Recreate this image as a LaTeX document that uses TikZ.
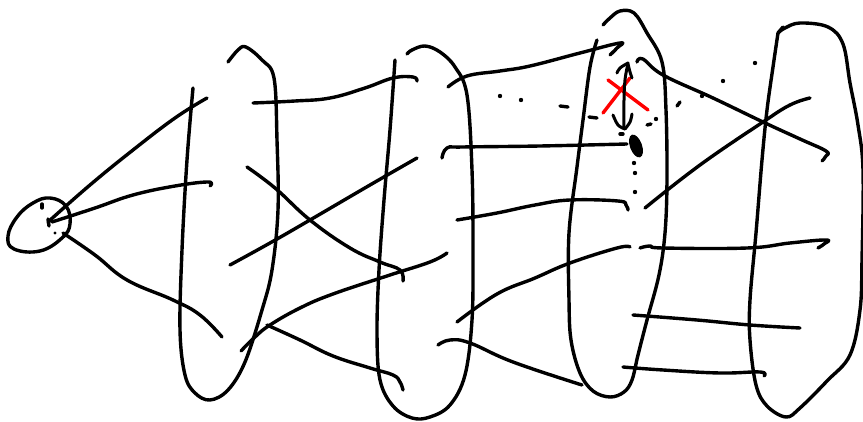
\documentclass[tikz,border=0pt]{standalone}
\begin{document}
\begin{tikzpicture}[x=1pt,y=-1pt,
  ink/.style={line width=3.4pt,line cap=round,line join=round,black},
  redink/.style={line width=3.4pt,line cap=round,line join=round,red}]
\useasboundingbox (0,0) rectangle (863,422);
% small ellipse (start)
\draw[ink] plot[smooth cycle,tension=0.7] coordinates {(50,198) (66,206) (70,224) (62,238) (40,251) (14,249) (8,236) (17,217) (33,203)};
\draw[ink] (42,204) -- (42,208);
\draw[ink] (48,219) -- (49,226);
\fill (55,233) circle (1.7);
% edges from start
\draw[ink] plot[smooth,tension=0.7] coordinates {(48,222) (90,185) (133,150) (175,118) (207,98)};
\draw[ink] plot[smooth,tension=0.7] coordinates {(52,222) (95,208) (133,195) (175,186) (208,182) (210,186)};
\draw[ink] plot[smooth,tension=0.7] coordinates {(63,233) (95,255) (127,280) (173,300) (200,315) (222,337)};
% column 1
\draw[ink] plot[smooth,tension=0.6] coordinates {(228,62) (238,50) (246,47) (262,60) (274,78) (277,140) (278,210) (272,270) (262,310) (245,362) (228,390) (210,400) (195,393) (185,375) (180,330) (182,250) (187,160) (193,88)};
% column 1 -> column 2
\draw[ink] plot[smooth,tension=0.7] coordinates {(253,103) (295,101) (330,98) (365,88) (393,78) (413,77) (417,81)};
\draw[ink] plot[smooth,tension=0.7] coordinates {(247,167) (275,188) (310,220) (350,248) (380,262) (400,270) (403,281)};
\draw[ink] plot[smooth,tension=0.7] coordinates {(230,265) (270,243) (310,220) (370,185) (417,158)};
\draw[ink] plot[smooth,tension=0.7] coordinates {(241,351) (255,337) (270,325) (300,308) (333,294) (390,275) (430,262) (447,253)};
\draw[ink] plot[smooth,tension=0.7] coordinates {(267,325) (300,340) (333,356) (370,368) (393,375) (400,382) (403,390)};
% column 2
\draw[ink] plot[smooth,tension=0.6] coordinates {(395,60) (390,130) (384,200) (379,270) (377,333) (380,380) (393,406) (412,418) (430,417) (450,405) (465,375) (472,320) (473,250) (472,170) (467,95) (455,67) (440,52) (425,46) (412,50) (407,54)};
% column 2 -> column 3
\draw[ink] plot[smooth,tension=0.7] coordinates {(448,87) (467,76) (500,71) (530,66) (580,53) (620,43) (617,48) (610,55)};
\draw[ink] plot[smooth,tension=0.7] coordinates {(442,158) (447,148) (463,147) (540,146) (627,144)};
\draw[ink] plot[smooth,tension=0.7] coordinates {(457,220) (497,213) (535,205) (570,200) (618,201) (626,205) (628,210)};
\draw[ink] plot[smooth,tension=0.7] coordinates {(457,322) (497,294) (535,278) (570,263) (617,248) (630,247)};
\draw[ink] plot[smooth,tension=0.7] coordinates {(438,345) (450,340) (470,343) (513,362) (582,385)};
% column 3
\draw[ink] plot[smooth,tension=0.6] coordinates {(597,40) (590,67) (583,120) (577,167) (569,233) (569,300) (571,340) (580,373) (593,391) (610,397) (624,392) (632,380) (638,355) (647,320) (659,275) (665,233) (667,180) (666,110) (662,62) (647,33) (634,13) (620,11) (610,18) (603,25)};
% red cross
\draw[redink] (608,80) -- (648,110);
\draw[redink] (630,78) -- (603,113);
% bracket / double arrow
\draw[ink,line width=3pt] plot[smooth,tension=0.6] coordinates {(628,63) (620,68) (617,73)};
\draw[ink,line width=3pt] plot[smooth,tension=0.6] coordinates {(628,63) (625,80) (624,100) (624,128)};
\draw[ink,line width=3pt] plot[smooth,tension=0.6] coordinates {(628,64) (630,72) (632,78)};
\draw[ink,line width=3pt] plot[smooth,tension=0.6] coordinates {(613,115) (618,125) (625,129)};
\draw[ink,line width=3pt] plot[smooth,tension=0.6] coordinates {(625,129) (630,122) (632,114)};
% blob
\fill[rotate around={20:(636,146)}] (636,146) ellipse (6 and 12);
% dotted marks
\fill (500,96) circle (2.2);
\fill (521,100) circle (2.2);
\draw[ink] (560,106) -- (568,107);
\draw[ink] (589,117) -- (597,118);
\draw[ink] (620,134) -- (623,134);
\draw[ink] (647,125) -- (651,124);
\fill (656,119) circle (2.2);
\draw[ink] (677,106) -- (680,102);
\fill (702,96) circle (2.2);
\fill (723,81) circle (2.2);
\fill (755,63) circle (2.2);
\fill (634,163) circle (2.2);
\fill (635,173) circle (2.2);
\fill (635,192) circle (2.2);
% column 3 -> column 4
\draw[ink] plot[smooth,tension=0.7] coordinates {(637,62) (643,59) (663,75) (713,98) (763,122) (800,139) (826,151) (826,156) (822,161)};
\draw[ink] plot[smooth,tension=0.7] coordinates {(645,208) (700,165) (763,122) (790,105) (810,98)};
\draw[ink] plot[smooth,tension=0.7] coordinates {(640,248) (650,246) (663,248) (747,248) (790,243) (826,240) (824,244) (818,248)};
\draw[ink] plot[smooth,tension=0.7] coordinates {(633,315) (697,320) (750,325) (800,328)};
\draw[ink] plot[smooth,tension=0.7] coordinates {(623,367) (663,370) (720,373) (760,372) (764,376)};
% column 4
\draw[ink] plot[smooth,tension=0.6] coordinates {(778,33) (773,67) (767,110) (762,160) (756,233) (750,300) (750,340) (756,385) (767,406) (786,417) (800,408) (827,381) (850,355) (860,310) (862,260) (863,170) (858,125) (850,83) (843,44) (828,27) (800,23) (785,28) (778,33)};
\draw[ink] (778,33) -- (783,27);
\end{tikzpicture}
\end{document}
